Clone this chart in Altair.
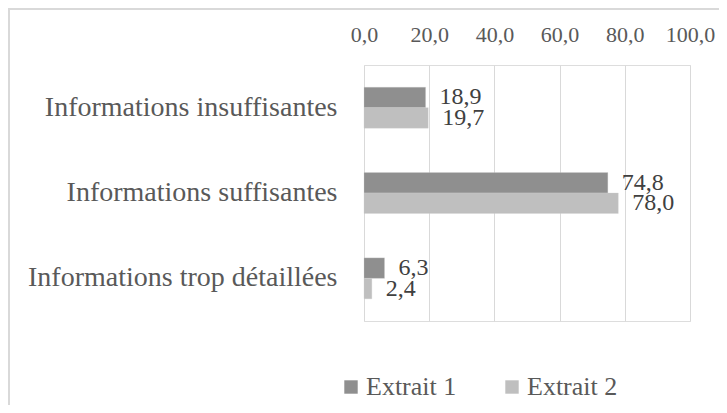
import altair as alt
import pandas as pd

categories = ["Informations insuffisantes", "Informations suffisantes", "Informations trop détaillées"]
series = ["Extrait 1", "Extrait 2"]
extrait1 = [18.9, 74.8, 6.3]
extrait2 = [19.7, 78.0, 2.4]
x_ticks = [0, 20, 40, 60, 80, 100]
colors = ["#8f8f8f", "#bfbfbf"]

rows = []
for c, v1, v2 in zip(categories, extrait1, extrait2):
    rows.append({"cat": c, "serie": series[0], "val": v1})
    rows.append({"cat": c, "serie": series[1], "val": v2})
df = pd.DataFrame(rows)
df["lab"] = df["val"].map(lambda v: f"{v:.1f}".replace(".", ","))

FONT = "Liberation Serif"

x_enc = alt.X("val:Q",
              scale=alt.Scale(domain=[0, 100], nice=False),
              axis=alt.Axis(orient="top", values=x_ticks, title=None, domain=False, ticks=False,
                            labelExpr="replace(format(datum.value, '.1f'), '.', ',')",
                            labelFontSize=22, labelColor="#595959", labelFont=FONT,
                            labelOverlap=False, labelFlush=False,
                            labelPadding=19, gridColor="#d9d9d9", gridWidth=1))
y_enc = alt.Y("cat:N", sort=categories,
              scale=alt.Scale(paddingInner=0.52, paddingOuter=0.26),
              axis=alt.Axis(title=None, domain=False, ticks=False, labelFontSize=28,
                            labelColor="#595959", labelFont=FONT, labelPadding=27, labelLimit=400))
yoff = alt.YOffset("serie:N", sort=series)

base = alt.Chart(df)

bars = base.mark_bar(stroke="#d0d0d0", strokeWidth=0.5, strokeOpacity=0.6).encode(
    x=x_enc, y=y_enc, yOffset=yoff,
    color=alt.Color("serie:N", sort=series, scale=alt.Scale(domain=series, range=colors),
                    legend=alt.Legend(title=None, orient="none", direction="horizontal",
                                      legendX=-26, legendY=309, symbolType="square", symbolSize=180,
                                      symbolStrokeWidth=0, labelFontSize=26, labelFont=FONT,
                                      labelColor="#595959", columnPadding=42, symbolOffset=0,
                                      labelOffset=2))
)

texts = base.mark_text(align="left", baseline="middle", dx=14, fontSize=24, font=FONT,
                       color="#404040").encode(
    x="val:Q", y=alt.Y("cat:N", sort=categories), yOffset=yoff, text="lab:N"
)

frame = alt.Chart(pd.DataFrame({"a": [0]})).mark_rect(
    fill="transparent", stroke="#d9d9d9", strokeWidth=2
).encode(x=alt.value(-355), x2=alt.value(600), y=alt.value(-56), y2=alt.value(600))

chart = alt.layer(frame, bars, texts).properties(
    width=326, height=256,
    autosize=alt.AutoSizeParams(type="none"),
    padding={"left": 356, "top": 57, "right": 29, "bottom": 84},
).configure_view(stroke=None).configure(background="white")

chart.save("out.html", embed_options={"renderer": "svg", "actions": False})
